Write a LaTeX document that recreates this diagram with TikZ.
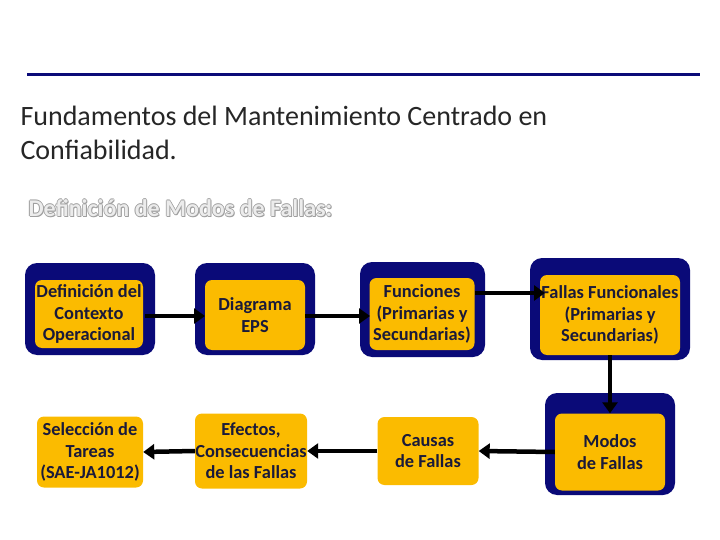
\documentclass[tikz,border=0pt]{standalone}
\usepackage{fontspec}
\setmainfont{Carlito}
\usetikzlibrary{arrows.meta}
\definecolor{navy}{HTML}{0A0A78}
\definecolor{gold}{HTML}{FBBB00}
\definecolor{txt}{HTML}{1A1A3A}
\begin{document}
\begin{tikzpicture}[x=1pt,y=-1pt,
  outerbox/.style={fill=navy,rounded corners=12pt},
  inbox/.style={fill=gold,rounded corners=7pt,align=center,text=txt,font=\bfseries\fontsize{18.4}{21.5}\selectfont,inner sep=0pt},
  sub/.style={anchor=west,font=\bfseries\fontsize{24}{26}\selectfont},
  arr/.style={line width=4.5pt,-{Triangle[length=11pt,width=15pt]}}]
\useasboundingbox (0,0) rectangle (720,540);
\draw[navy,line width=3pt] (27,75) -- (700,75);
\node[anchor=west,align=left,font=\fontsize{28}{34}\selectfont,text=black!85] (t) at (17,133) {Fundamentos del Mantenimiento Centrado en\\Confiabilidad.};
\foreach \dx/\dy in {-0.8/0,0.8/0,0/-0.8,0/0.8,1/1}
  \node[sub,text=gray!75] at (25+\dx,208+\dy) {Definición de Modos de Fallas:};
\node[sub,text=gray!15] (s) at (25,208) {Definición de Modos de Fallas:};
% outer frames
\fill[outerbox] (25,263) rectangle (155,355);
\fill[outerbox] (195,263) rectangle (315,355);
\fill[outerbox] (360,262) rectangle (485,357);
\fill[outerbox] (530,258) rectangle (690,360);
\fill[outerbox] (545,393) rectangle (675,495);
% inner boxes
\node[inbox,minimum width=108pt,minimum height=68pt] (a) at (89,314) {Definición del\\Contexto\\Operacional};
\node[inbox,minimum width=100pt,minimum height=70pt] (b) at (255,315) {Diagrama\\EPS};
\node[inbox,minimum width=105pt,minimum height=72pt] (c) at (422,314) {Funciones\\(Primarias y\\Secundarias)};
\node[inbox,minimum width=140pt,minimum height=80pt] (d) at (610,315) {Fallas Funcionales\\(Primarias y\\Secundarias)};
\node[inbox,minimum width=110pt,minimum height=77pt] (h) at (610,452) {Modos\\de Fallas};
\node[inbox,minimum width=106pt,minimum height=71pt] (e) at (90,452) {Selección de\\Tareas\\(SAE-JA1012)};
\node[inbox,minimum width=112pt,minimum height=75pt] (f) at (251,451) {Efectos,\\Consecuencias\\de las Fallas};
\node[inbox,minimum width=101pt,minimum height=68pt] (g) at (428,451) {Causas\\de Fallas};
% arrows
\draw[arr] (145,316) -- (205,316);
\draw[arr] (305,316) -- (370,316);
\draw[arr] (475,293) -- (545,293);
\draw[arr] (d.south) -- (h.north);
\draw[arr] (h.west) -- (g.east);
\draw[arr] (g.west) -- (f.east);
\draw[arr] (f.west) -- (e.east);
\end{tikzpicture}
\end{document}
